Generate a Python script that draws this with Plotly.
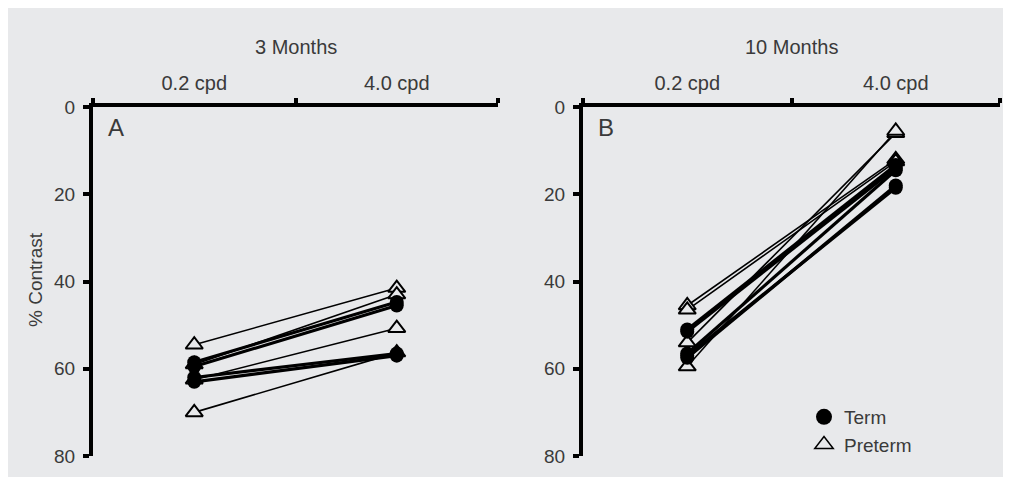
import plotly.graph_objects as go

# ---- data ----
months = ["3 Months", "10 Months"]
freqs = ["0.2 cpd", "4.0 cpd"]
panel_letters = ["A", "B"]
y_ticks = [0, 20, 40, 60, 80]

a_term_low = [58.5, 59.5, 62.0, 63.0]
a_term_high = [44.7, 45.5, 56.5, 57.0]
a_pre_low = [54.5, 59.0, 62.5, 70.0]
a_pre_high = [41.5, 43.0, 50.7, 56.3]

b_term_low = [51.0, 51.5, 56.5, 57.0, 57.5]
b_term_high = [13.3, 14.0, 14.5, 18.5, 18.0]
b_pre_low = [45.5, 46.5, 54.0, 59.5]
b_pre_high = [12.0, 12.5, 6.0, 5.5]

BG = "#e8e9eb"
INK = "#3a3a3a"
FONT = "Liberation Sans, Arial, sans-serif"

xpos = [i + 0.5 for i in range(len(freqs))]

fig = go.Figure()

panels = [
    ("x", "y", a_term_low, a_term_high, a_pre_low, a_pre_high),
    ("x2", "y2", b_term_low, b_term_high, b_pre_low, b_pre_high),
]

for xa, ya, tl, th, pl, ph in panels:
    for lo, hi in zip(pl, ph):
        fig.add_trace(go.Scatter(x=xpos, y=[lo, hi], mode="lines", xaxis=xa, yaxis=ya,
                                 line=dict(color="black", width=1.6), showlegend=False,
                                 hoverinfo="skip"))
    for lo, hi in zip(tl, th):
        fig.add_trace(go.Scatter(x=xpos, y=[lo, hi], mode="lines", xaxis=xa, yaxis=ya,
                                 line=dict(color="black", width=3.2), showlegend=False,
                                 hoverinfo="skip"))

for xa, ya, tl, th, pl, ph in panels:
    fig.add_trace(go.Scatter(
        x=[xpos[0]] * len(pl) + [xpos[1]] * len(ph), y=pl + ph, mode="markers",
        xaxis=xa, yaxis=ya, showlegend=False,
        marker=dict(symbol="triangle-up", size=15, color=BG,
                    line=dict(color="black", width=2))))
    fig.add_trace(go.Scatter(
        x=[xpos[0]] * len(tl) + [xpos[1]] * len(th), y=tl + th, mode="markers",
        xaxis=xa, yaxis=ya, showlegend=False,
        marker=dict(symbol="circle", size=14, color="black")))

# legend entries
fig.add_trace(go.Scatter(x=[None], y=[None], mode="markers", name="Term",
                         xaxis="x2", yaxis="y2",
                         marker=dict(symbol="circle", size=16, color="black")))
fig.add_trace(go.Scatter(x=[None], y=[None], mode="markers", name="Preterm",
                         xaxis="x2", yaxis="y2",
                         marker=dict(symbol="triangle-up", size=17, color=BG,
                                     line=dict(color="black", width=1.5))))

W, H = 1003, 469
L, T = 85, 99
R = W - 992
B = H - 448
pw = W - L - R
ph_ = H - T - B
dA = [0, (490 - L) / pw]
dB = [(575 - L) / pw, 1]

def xaxis_cfg(domain, anchor):
    return dict(domain=domain, anchor=anchor, side="top", range=[0, 2],
                tickvals=xpos, ticktext=freqs, ticks="", showgrid=False, zeroline=False,
                showline=True, linecolor="black", linewidth=4,
                tickfont=dict(family=FONT, size=20, color=INK), ticklabelstandoff=5,
                minor=dict(tickvals=[0, 1, 2], ticks="outside", ticklen=5, tickwidth=4,
                           tickcolor="black", showgrid=False))

def yaxis_cfg(anchor):
    return dict(anchor=anchor, domain=[0, 1], range=[80, 0], tickvals=y_ticks,
                ticks="outside", ticklen=6, tickwidth=4, tickcolor="black",
                showgrid=False, zeroline=False, showline=True, linecolor="black",
                linewidth=4, tickfont=dict(family=FONT, size=19, color=INK),
                ticklabelstandoff=4)

annotations = []
for i, (m, letter) in enumerate(zip(months, panel_letters)):
    xa = "x" if i == 0 else "x2"
    annotations.append(dict(text=m, x=1, xref=xa, y=1, yref="paper", yanchor="middle",
                            yshift=60, showarrow=False,
                            font=dict(family=FONT, size=20, color=INK)))
    annotations.append(dict(text=letter, x=0, xref=xa + " domain", y=1, yref="paper",
                            xanchor="left", yanchor="top", xshift=13, yshift=-5,
                            showarrow=False, font=dict(family=FONT, size=24, color=INK)))
annotations.append(dict(text="% Contrast", x=0, xref="paper", y=(448 - 272) / ph_,
                        yref="paper", xanchor="center", yanchor="middle",
                        xshift=-58, textangle=-90, showarrow=False,
                        font=dict(family=FONT, size=19, color=INK)))

fig.update_layout(
    width=W, height=H, margin=dict(l=L, r=R, t=T, b=B),
    paper_bgcolor=BG, plot_bgcolor=BG,
    xaxis=xaxis_cfg(dA, "y"), yaxis=yaxis_cfg("x"),
    xaxis2=xaxis_cfg(dB, "y2"), yaxis2=yaxis_cfg("x2"),
    annotations=annotations,
    legend=dict(x=(796 - L) / pw, y=1 - (390 - T) / ph_, xanchor="left", yanchor="top",
                bgcolor="rgba(0,0,0,0)", font=dict(family=FONT, size=19, color=INK),
                tracegroupgap=0, itemsizing="trace"),
    showlegend=True,
)
fig.write_html("out.html")
